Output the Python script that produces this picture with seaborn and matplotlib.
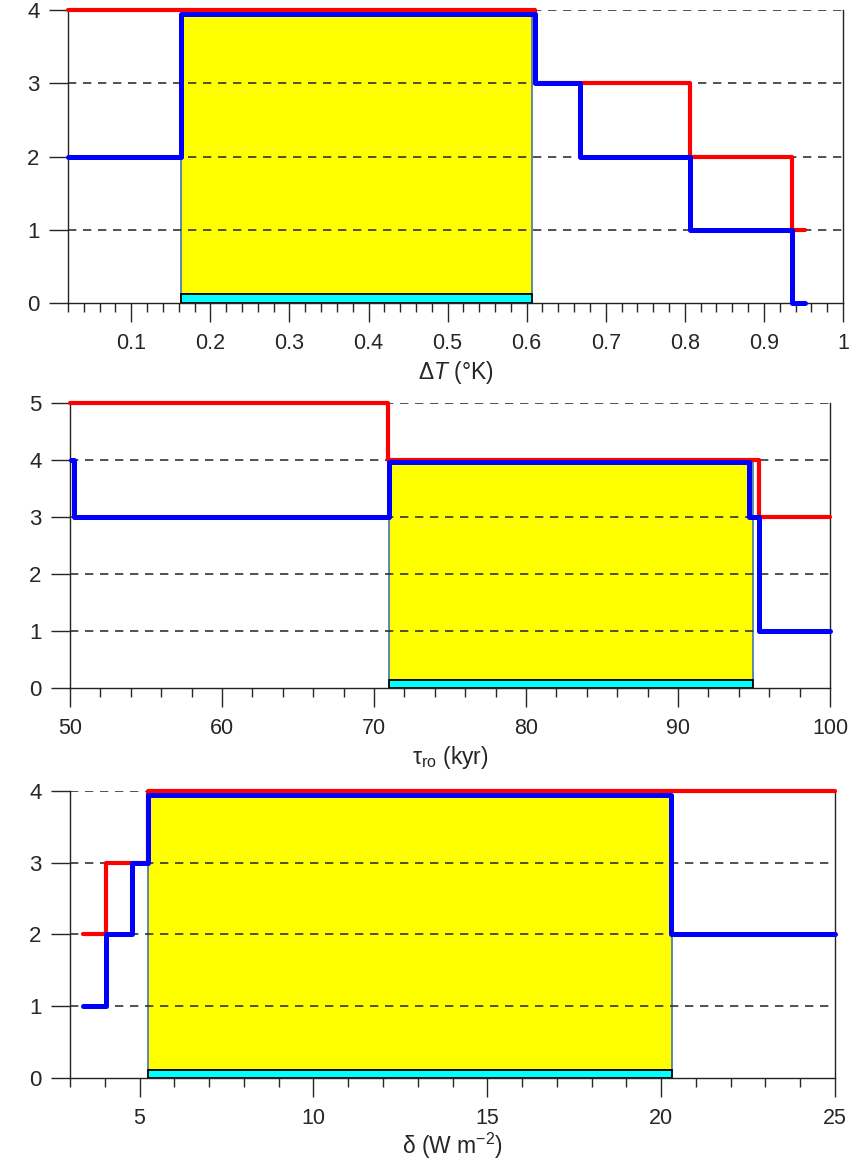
import numpy as np
import matplotlib
matplotlib.use("Agg")
import matplotlib.pyplot as plt
from matplotlib.ticker import MultipleLocator, FuncFormatter
import seaborn as sns

# panel 1: Delta T
dt_red_x = [0.02, 0.61, 0.806, 0.935, 0.952]
dt_red_y = [4, 3, 2, 1, 1]
dt_blue_x = [0.02, 0.163, 0.61, 0.667, 0.806, 0.935, 0.952]
dt_blue_y = [2, 3.95, 3, 2, 1, 0, 0]
dt_band = (0.163, 0.607)

# panel 2: tau_ro
tau_red_x = [50, 70.9, 95.3, 100]
tau_red_y = [5, 4, 3, 3]
tau_blue_x = [50.05, 50.25, 71.0, 94.7, 95.3, 100]
tau_blue_y = [4, 3, 3.96, 3, 1, 1]
tau_band = (71.0, 94.9)

# panel 3: delta
del_red_x = [3.37, 4.03, 5.24, 25]
del_red_y = [2, 3, 4, 4]
del_blue_x = [3.37, 4.03, 4.77, 5.24, 20.27, 25]
del_blue_y = [1, 2, 3, 3.95, 2, 2]
del_band = (5.24, 20.3)

sns.set_style("white")
plt.rcParams['font.family'] = ['Liberation Sans', 'DejaVu Sans']
plt.rcParams['mathtext.fontset'] = 'custom'
plt.rcParams['mathtext.rm'] = 'Liberation Sans'
plt.rcParams['mathtext.it'] = 'Liberation Sans:italic'

fig = plt.figure(figsize=(8.58, 11.62), dpi=100)

panels = [
    dict(rect=[0.0793, 0.7392, 0.9032, 0.2522], xlim=(0.02, 1), ymax=4, major=0.1, minor=0.02,
         red=(dt_red_x, dt_red_y), blue=(dt_blue_x, dt_blue_y), band=dt_band, top=3.95, cyan=0.12,
         label="Δ$T$ (°K)", pad=4),
    dict(rect=[0.0816, 0.4079, 0.8858, 0.2453], xlim=(50, 100), ymax=5, major=10, minor=2,
         red=(tau_red_x, tau_red_y), blue=(tau_blue_x, tau_blue_y), band=tau_band, top=3.96, cyan=0.14,
         label="τ$_{\\mathrm{ro}}$ (kyr)", pad=4),
    dict(rect=[0.0816, 0.0723, 0.8916, 0.2470], xlim=(3, 25), ymax=4, major=5, minor=1,
         red=(del_red_x, del_red_y), blue=(del_blue_x, del_blue_y), band=del_band, top=3.95, cyan=0.11,
         label="δ (W m$^{\\mathrm{-2}}$)", pad=1.5),
]

for p in panels:
    ax = fig.add_axes(p['rect'])
    lo, hi = p['band']
    # yellow band and cyan base
    ax.bar([lo], [p['top'] - p['cyan']], width=hi - lo, bottom=p['cyan'], align='edge',
           color='#ffff00', edgecolor='#4f7fae', linewidth=1.3, zorder=1)
    ax.bar([lo], [p['cyan']], width=hi - lo, align='edge',
           color='#00ffff', edgecolor='black', linewidth=1.3, zorder=1.5)
    # dashed grid
    for yv in range(1, p['ymax'] + 1):
        ax.axhline(yv, color='#333333', lw=1.2, ls=(0, (5, 4)), zorder=2)
    sns.lineplot(x=p['red'][0], y=p['red'][1], drawstyle='steps-post', estimator=None, sort=False,
                 color='#ff0000', linewidth=3.0, ax=ax, zorder=3, clip_on=False)
    sns.lineplot(x=p['blue'][0], y=p['blue'][1], drawstyle='steps-post', estimator=None, sort=False,
                 color='#0000ff', linewidth=3.6, ax=ax, zorder=4, clip_on=False)

    ax.set_xlim(*p['xlim'])
    ax.set_ylim(0, p['ymax'])
    ax.xaxis.set_major_locator(MultipleLocator(p['major']))
    ax.xaxis.set_minor_locator(MultipleLocator(p['minor']))
    ax.xaxis.set_major_formatter(FuncFormatter(lambda v, pos: f"{v:g}"))
    ax.yaxis.set_major_locator(MultipleLocator(1))
    ax.tick_params(axis='x', which='major', direction='out', length=13.5, width=1, pad=8,
                   labelsize=15.5, bottom=True)
    ax.tick_params(axis='x', which='minor', direction='out', length=6.5, width=1, bottom=True)
    ax.tick_params(axis='y', which='major', direction='out', length=13.5, width=1, pad=7,
                   labelsize=16, left=True)
    for s in ['left', 'right', 'bottom']:
        ax.spines[s].set_visible(True)
        ax.spines[s].set_color('#222222')
        ax.spines[s].set_linewidth(1)
    ax.spines['top'].set_visible(False)
    ax.set_xlabel(p['label'], fontsize=16.5, labelpad=p['pad'])
    ax.set_ylabel('')
    ax.grid(False)

fig.savefig('out.png', dpi=100)
